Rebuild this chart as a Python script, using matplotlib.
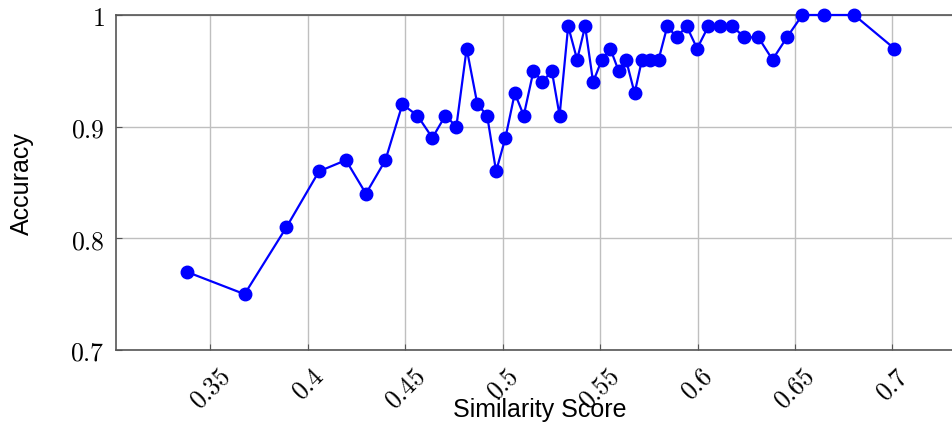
import matplotlib
matplotlib.use("Agg")
import matplotlib.pyplot as plt

plt.rcParams['mathtext.fontset'] = 'cm'

similarity = [0.3378, 0.3675, 0.389, 0.4057, 0.4195, 0.4298, 0.4398, 0.4485,
              0.4562, 0.4639, 0.4706, 0.4762, 0.4815, 0.487, 0.492, 0.4966,
              0.5014, 0.5062, 0.5108, 0.5158, 0.5204, 0.5252, 0.5292, 0.5336,
              0.5382, 0.5423, 0.5464, 0.5509, 0.5552, 0.5595, 0.5633, 0.5677,
              0.5715, 0.5757, 0.58, 0.5845, 0.5893, 0.5944, 0.5998, 0.6056,
              0.6116, 0.6178, 0.6241, 0.6312, 0.6385, 0.6459, 0.6538, 0.6651,
              0.6804, 0.701]
accuracy = [0.77, 0.75, 0.81, 0.86, 0.87, 0.84, 0.87, 0.92,
            0.91, 0.89, 0.91, 0.90, 0.97, 0.92, 0.91, 0.86,
            0.89, 0.93, 0.91, 0.95, 0.94, 0.95, 0.91, 0.99,
            0.96, 0.99, 0.94, 0.96, 0.97, 0.95, 0.96, 0.93,
            0.96, 0.96, 0.96, 0.99, 0.98, 0.99, 0.97, 0.99,
            0.99, 0.99, 0.98, 0.98, 0.96, 0.98, 1.00, 1.00,
            1.00, 0.97]

xticks = [0.35, 0.4, 0.45, 0.5, 0.55, 0.6, 0.65, 0.7]
xtick_labels = ['0.35', '0.4', '0.45', '0.5', '0.55', '0.6', '0.65', '0.7']
yticks = [0.7, 0.8, 0.9, 1.0]
ytick_labels = ['0.7', '0.8', '0.9', '1']

fig = plt.figure(figsize=(9.53, 4.27), dpi=100)
ax = fig.add_axes([116 / 953, 76 / 427, (965 - 116) / 953, 335 / 427])

ax.plot(similarity, accuracy, color='#0000ff', linewidth=1.6, marker='o',
        markersize=9, clip_on=False, zorder=3)

ax.set_xlim(0.3015, 0.7373)
ax.set_ylim(0.7, 1.0)

ax.set_xticks(xticks)
ax.set_xticklabels(['$' + t + '$' for t in xtick_labels], rotation=45,
                   ha='center')
ax.set_yticks(yticks)
ax.set_yticklabels(['$' + t + '$' for t in ytick_labels])

ax.tick_params(axis='x', direction='in', length=4, color='#555555', pad=9,
               labelsize=18.5)
ax.tick_params(axis='y', direction='in', length=4, color='#555555', pad=8,
               labelsize=18.5)
ax.grid(True, color='#bfbfbf', linewidth=1)
ax.set_axisbelow(True)
for s in ax.spines.values():
    s.set_color('#555555')
    s.set_linewidth(1.2)

ax.set_xlabel('Similarity Score', family='Liberation Sans', fontsize=18)
ax.xaxis.set_label_coords((540 - 116) / 849, -47 / 335)
ax.set_ylabel('Accuracy', family='Liberation Sans', fontsize=18)
ax.yaxis.set_label_coords(-(116 - 34) / 849, 0.5)

fig.savefig('out.png', dpi=100)
